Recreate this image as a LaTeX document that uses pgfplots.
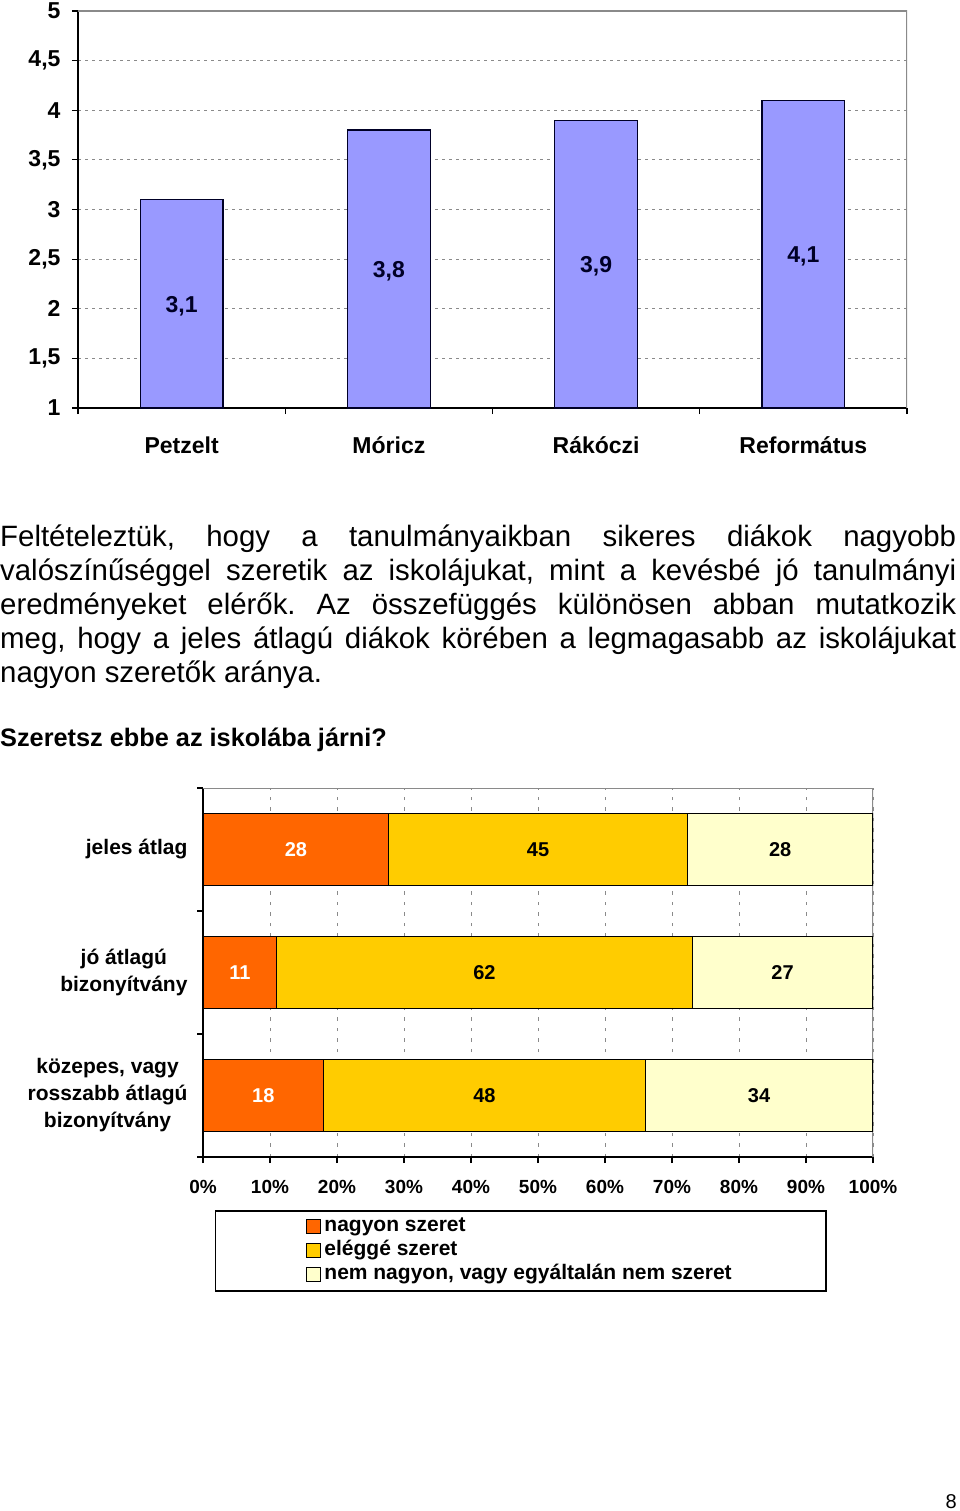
\documentclass[border=0pt]{standalone}
\usepackage{pgfplots}
\pgfplotsset{compat=1.18}
\usepackage{pgfplotstable}
\usepackage{fontspec}
\setmainfont{Liberation Sans}
\definecolor{barblue}{HTML}{9999FF}
\definecolor{c1}{HTML}{FF6600}
\definecolor{c2}{HTML}{FFCC00}
\definecolor{c3}{HTML}{FFFFCC}
\definecolor{gridgray}{HTML}{8A8A8A}

\pgfplotstableread{
x v lab
0 3.1 3,1
1 3.8 3,8
2 3.9 3,9
3 4.1 4,1
}\schools

\pgfplotstableread{
y a b c
2 28 45 28
1 11 62 27
0 18 48 34
}\likes

\begin{document}
\frenchspacing
\begin{tikzpicture}
\useasboundingbox (0pt,0pt) rectangle (960pt,-1511pt);
% ---------------- top chart ----------------
\begin{axis}[
  at={(78pt,-408pt)}, anchor=south west,
  scale only axis, width=829pt, height=397pt,
  xmin=-0.5, xmax=3.5, ymin=1, ymax=5,
  axis x line*=bottom, axis y line*=left,
  axis line style={black, line width=1.6pt},
  tick align=outside, major tick length=0pt, minor tick length=6pt,
  tick style={black, line width=1.2pt},
  ytick={1,1.5,2,2.5,3,3.5,4,4.5,5},
  minor ytick={1,1.5,2,2.5,3,3.5,4,4.5,5},
  yticklabels={1,{1,5},2,{2,5},3,{3,5},4,{4,5},5},
  xtick={0,1,2,3},
  xticklabels={Petzelt,Móricz,Rákóczi,Református},
  minor xtick={-0.5,0.5,1.5,2.5,3.5},
  ymajorgrids,
  major grid style={gridgray, dash pattern=on 2.5pt off 4.5pt, line width=1pt},
  ticklabel style={font=\bfseries\fontsize{23pt}{27pt}\selectfont},
  xticklabel style={yshift=-25pt},
  yticklabel style={xshift=-14pt},
  clip=true,
]
\addplot[ybar, bar width=0.4, fill=barblue, draw=black!85!blue, line width=1.2pt] table[x=x, y=v]{\schools};
\addplot[draw=none, nodes near coords, point meta=explicit symbolic,
  nodes near coords style={anchor=center, yshift=-2pt, font=\bfseries\fontsize{23pt}{27pt}\selectfont, text=black!85!blue}]
  table[x=x, y expr={(\thisrow{v}+1)/2}, meta=lab]{\schools};
\draw[gridgray, line width=1.2pt] (rel axis cs:0,1) -- (rel axis cs:1,1) -- (rel axis cs:1,0);
\end{axis}
% ---------------- text ----------------
\node[anchor=base west, text width=956pt, align=justify, inner sep=0pt,
  font=\fontsize{29.4pt}{34pt}\selectfont] at (0pt,-546pt)
  {Feltételeztük, hogy a tanulmányaikban sikeres diákok nagyobb\linebreak
   valószínűséggel szeretik az iskolájukat, mint a kevésbé jó tanulmányi\linebreak
   eredményeket elérők. Az összefüggés különösen abban mutatkozik\linebreak
   meg, hogy a jeles átlagú diákok körében a legmagasabb az iskolájukat\linebreak
   nagyon szeretők aránya.};
\node[anchor=base west, inner sep=0pt, font=\bfseries\fontsize{25.3pt}{30pt}\selectfont]
  at (0pt,-746pt) {Szeretsz ebbe az iskolába járni?};
% ---------------- bottom chart ----------------
\begin{axis}[
  at={(203pt,-1157pt)}, anchor=south west,
  scale only axis, width=670pt, height=369pt,
  xmin=0, xmax=100, ymin=-0.5, ymax=2.5,
  xbar stacked, bar width=0.59,
  axis x line*=bottom, axis y line*=left,
  axis line style={black, line width=1.6pt},
  tick align=outside, major tick length=0pt, minor tick length=6pt,
  tick style={black, line width=1.2pt},
  xtick={0,10,20,30,40,50,60,70,80,90,100},
  minor xtick={0,10,20,30,40,50,60,70,80,90,100},
  xticklabels={0\%,10\%,20\%,30\%,40\%,50\%,60\%,70\%,80\%,90\%,100\%},
  ytick={0,1,2},
  yticklabels={{közepes, vagy\\rosszabb átlagú\\bizonyítvány},{jó átlagú\\bizonyítvány},{jeles átlag}},
  minor ytick={-0.5,0.5,1.5,2.5},
  xmajorgrids,
  major grid style={gridgray, dash pattern=on 3.5pt off 7pt, line width=1pt},
  xticklabel style={font=\bfseries\fontsize{19pt}{23pt}\selectfont, yshift=-20pt},
  yticklabel style={font=\bfseries\fontsize{21pt}{27pt}\selectfont, align=center, xshift=-12pt},
  legend style={at={(0.474,-0.1436)}, anchor=north, draw=black, line width=1.6pt,
    inner xsep=91pt, inner ysep=4pt, row sep=0pt,
    font=\bfseries\fontsize{21pt}{24pt}\selectfont,
    nodes={inner ysep=2pt, inner xsep=3pt, text height=15pt, text depth=5pt}},
  legend cell align=left,
  legend image code/.code={\draw[#1, draw=black, line width=1pt] (0pt,-7pt) rectangle (14pt,7pt);},
]
\addplot[fill=c1, draw=black, line width=1.2pt] table[y=y, x expr={100*\thisrow{a}/(\thisrow{a}+\thisrow{b}+\thisrow{c})}]{\likes};
\addlegendentry{nagyon szeret}
\addplot[fill=c2, draw=black, line width=1.2pt] table[y=y, x expr={100*\thisrow{b}/(\thisrow{a}+\thisrow{b}+\thisrow{c})}]{\likes};
\addlegendentry{eléggé szeret}
\addplot[fill=c3, draw=black, line width=1.2pt] table[y=y, x expr={100*\thisrow{c}/(\thisrow{a}+\thisrow{b}+\thisrow{c})}]{\likes};
\addlegendentry{nem nagyon, vagy egyáltalán nem szeret}
\draw[gridgray, line width=1.2pt] (rel axis cs:0,1) -- (rel axis cs:1,1) -- (rel axis cs:1,0);
\end{axis}
\begin{axis}[
  at={(203pt,-1157pt)}, anchor=south west,
  scale only axis, width=670pt, height=369pt,
  xmin=0, xmax=100, ymin=-0.5, ymax=2.5, hide axis,
  nodes near coords style={anchor=center, font=\bfseries\fontsize{20pt}{24pt}\selectfont},
]
\addplot[draw=none, nodes near coords, point meta=explicit symbolic, nodes near coords style={text=white}]
  table[y=y, x expr={100*(\thisrow{a}/2)/(\thisrow{a}+\thisrow{b}+\thisrow{c})}, meta=a]{\likes};
\addplot[draw=none, nodes near coords, point meta=explicit symbolic]
  table[y=y, x expr={100*(\thisrow{a}+\thisrow{b}/2)/(\thisrow{a}+\thisrow{b}+\thisrow{c})}, meta=b]{\likes};
\addplot[draw=none, nodes near coords, point meta=explicit symbolic]
  table[y=y, x expr={100*(\thisrow{a}+\thisrow{b}+\thisrow{c}/2)/(\thisrow{a}+\thisrow{b}+\thisrow{c})}, meta=c]{\likes};
\end{axis}
\node[anchor=base east, inner sep=0pt, font=\fontsize{20pt}{24pt}\selectfont] at (957pt,-1508pt) {8};
\end{tikzpicture}
\end{document}
